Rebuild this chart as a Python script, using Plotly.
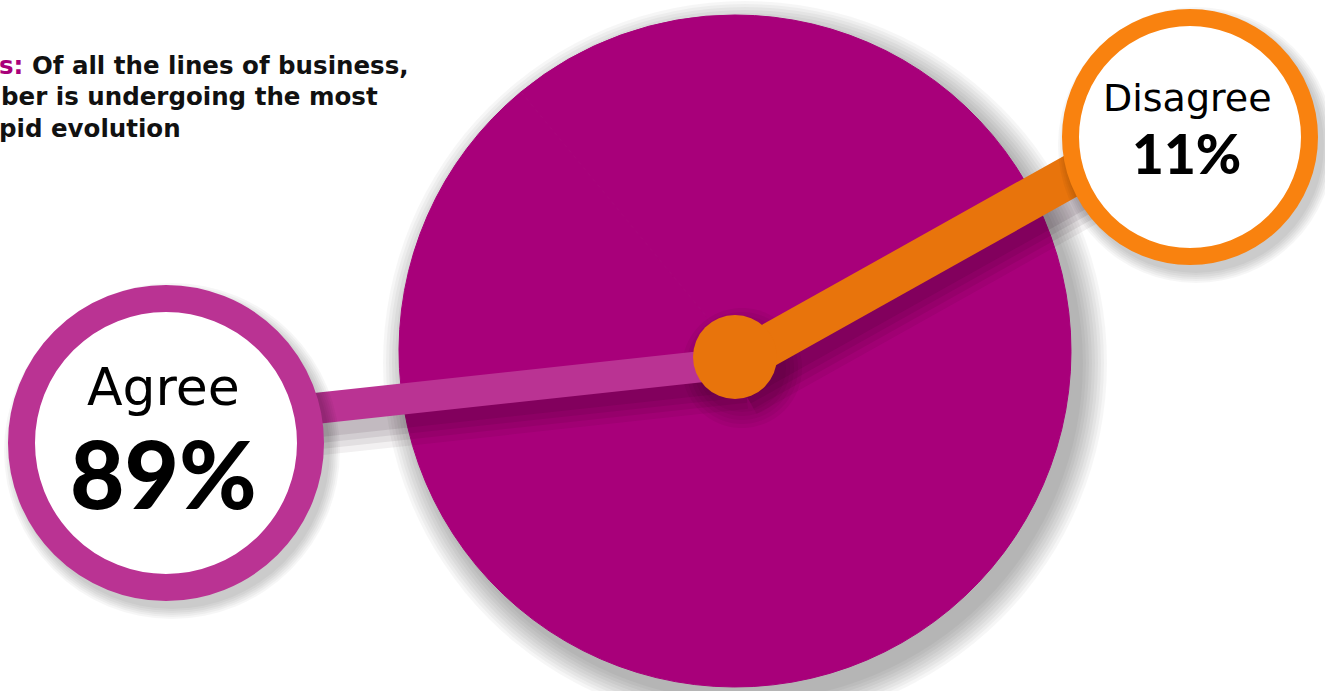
import plotly.graph_objects as go

# ---- data ----
labels = ["Agree", "Disagree"]
values = [89, 11]
title_lines = ["s:", " Of all the lines of business,", "ber is undergoing the most", "pid evolution"]

W, H = 1325, 691
MAGENTA = "#A8007A"
MAG_LIGHT = "#BA3393"
ORANGE = "#E8740C"
ORANGE_RING = "#F9820F"


def px(x):
    return x / W


def py(y):
    return 1 - y / H


def circle(cx, cy, r, **kw):
    return dict(type="circle", xref="paper", yref="paper",
                x0=px(cx - r), x1=px(cx + r), y0=py(cy + r), y1=py(cy - r), **kw)


def line(x0, y0, x1, y1, color, width, layer="above"):
    return dict(type="line", xref="paper", yref="paper", layer=layer,
                x0=px(x0), y0=py(y0), x1=px(x1), y1=py(y1),
                line=dict(color=color, width=width))


# pie geometry (pixels)
CX, CY, R = 735, 351, 336

fig = go.Figure()
fig.add_trace(go.Pie(
    labels=labels, values=values, sort=False, direction="clockwise",
    marker=dict(colors=[MAGENTA, MAGENTA], line=dict(width=1, color=MAGENTA)),
    textinfo="none", hoverinfo="label+percent", showlegend=False,
    domain=dict(x=[px(CX - R), px(CX + R)], y=[py(CY + R), py(CY - R)]),
))

shapes = []
# soft shadow under the pie
for k in range(9):
    shapes.append(circle(CX + 10, CY + 12, R + 2 + 3 * k, layer="below",
                         fillcolor="rgba(0,0,0,0.035)", line=dict(width=0)))

# pointer geometry
ag_cx, ag_cy, ag_ro, ag_w = 166, 443, 158, 27
dg_cx, dg_cy, dg_ro, dg_w = 1190, 137, 128, 17
mag_start, mag_end = (735, 363), (200, 421)
org_start, org_end = (735, 364), (1180, 115)

# shadows of the pointer lines
for w, a in [(56, 0.06), (44, 0.07), (32, 0.08), (20, 0.09)]:
    shapes.append(line(mag_start[0] + 10, mag_start[1] + 18, mag_end[0] + 10, mag_end[1] + 18,
                       f"rgba(30,0,20,{a})", w))
    shapes.append(line(org_start[0] + 6, org_start[1] + 22, org_end[0] + 6, org_end[1] + 22,
                       f"rgba(30,0,20,{a})", w + 8))
for k in range(5):
    shapes.append(circle(742, 368, 44 + 4 * k, layer="above",
                         fillcolor="rgba(30,0,20,0.05)", line=dict(width=0)))

shapes.append(line(*mag_start, *mag_end, MAG_LIGHT, 31))
shapes.append(line(*org_start, *org_end, ORANGE, 42))
shapes.append(circle(735, 357, 42, layer="above", fillcolor=ORANGE, line=dict(width=0)))

# label circle shadows
for k in range(6):
    shapes.append(circle(ag_cx + 6, ag_cy + 8, ag_ro + 2 * k, layer="above",
                         fillcolor="rgba(0,0,0,0.035)", line=dict(width=0)))
    shapes.append(circle(dg_cx + 6, dg_cy + 8, dg_ro + 2 * k, layer="above",
                         fillcolor="rgba(0,0,0,0.035)", line=dict(width=0)))

# label circles (white with coloured ring)
shapes.append(circle(ag_cx, ag_cy, ag_ro - ag_w / 2, layer="above", fillcolor="white",
                     line=dict(color=MAG_LIGHT, width=ag_w)))
shapes.append(circle(dg_cx, dg_cy, dg_ro - dg_w / 2, layer="above", fillcolor="white",
                     line=dict(color=ORANGE_RING, width=dg_w)))

LABEL_FONT = "DejaVu Sans"
NUM_FONT = dict(family="Lato", color="black", weight=900)

TITLE_FONT = dict(family="DejaVu Sans", size=24.5, color="#111", weight=700)
annotations = [
    dict(x=px(163), y=py(413), text=labels[0], showarrow=False, xanchor="center", yanchor="bottom",
         yshift=-6, font=dict(family=LABEL_FONT, size=52, color="black")),
    dict(x=px(163), y=py(437), text=f"{values[0]}%", showarrow=False, xanchor="center", yanchor="top",
         yshift=23, font=dict(NUM_FONT, size=94)),
    dict(x=px(1187), y=py(113), text=labels[1], showarrow=False, xanchor="center", yanchor="bottom",
         yshift=-9, font=dict(family=LABEL_FONT, size=38, color="black")),
    dict(x=px(1186), y=py(132), text=f"{values[1]}%", showarrow=False, xanchor="center", yanchor="top",
         yshift=14, font=dict(NUM_FONT, size=55)),
    dict(x=0, y=py(65), xshift=-3,
         text=f"<span style='color:{MAGENTA}'>{title_lines[0]}</span>{title_lines[1]}",
         showarrow=False, xanchor="left", yanchor="middle", font=TITLE_FONT),
    dict(x=0, y=py(97), xshift=-1, text=title_lines[2], showarrow=False, xanchor="left",
         yanchor="middle", font=TITLE_FONT),
    dict(x=0, y=py(129), xshift=-3, text=title_lines[3], showarrow=False, xanchor="left",
         yanchor="middle", font=TITLE_FONT),
]

fig.update_layout(
    width=W, height=H, margin=dict(l=0, r=0, t=0, b=0),
    paper_bgcolor="white", plot_bgcolor="white",
    shapes=shapes, annotations=annotations, showlegend=False,
)
fig.write_html("out.html", config={"displayModeBar": False},
               post_script="document.body.style.margin='0';document.body.style.overflow='hidden';")
